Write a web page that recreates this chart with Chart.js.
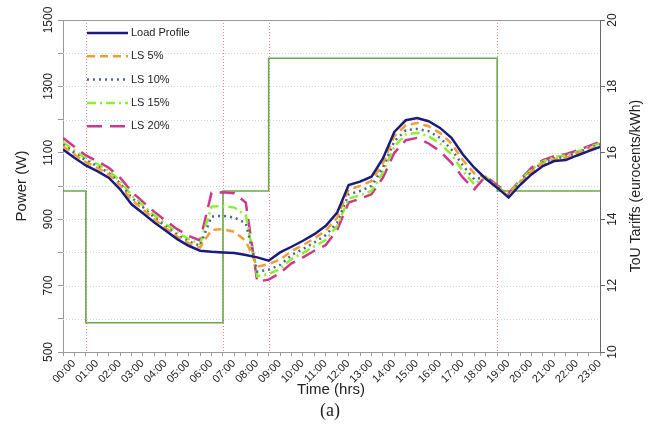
<!DOCTYPE html>
<html>
<head>
<meta charset="utf-8">
<script src="https://cdn.jsdelivr.net/npm/chart.js@4.4.1/dist/chart.umd.min.js"></script>
<style>
  html, body { margin: 0; padding: 0; background: #fff; }
  #wrap { position: relative; width: 659px; height: 429px; }
</style>
</head>
<body>
<div id="wrap"><canvas id="chart" width="659" height="429"></canvas></div>
<script>
/* Load profile vs load shifting scenarios, with ToU tariff steps */
var hours = [0, 0.5, 1, 1.5, 2, 2.5, 3, 3.5, 4, 4.5, 5, 5.5, 6, 6.5, 7, 7.5, 8, 8.5, 9, 9.5,
             10, 10.5, 11, 11.5, 12, 12.5, 13, 13.5, 14, 14.5, 15, 15.5, 16, 16.5, 17, 17.5,
             18, 18.5, 19, 19.5, 20, 20.5, 21, 21.5, 22, 22.5, 23, 23.5];
var hourLabels = ['00:00','01:00','02:00','03:00','04:00','05:00','06:00','07:00','08:00','09:00','10:00','11:00',
                  '12:00','13:00','14:00','15:00','16:00','17:00','18:00','19:00','20:00','21:00','22:00','23:00'];

var loadProfile = [1110, 1085, 1062, 1045, 1025, 990, 945, 918, 890, 865, 840, 820, 805, 802, 800, 798, 792, 785, 775, 800,
                   817, 835, 855, 880, 920, 1003, 1013, 1028, 1083, 1163, 1198, 1205, 1195, 1175, 1145, 1095,
                   1055, 1022, 995, 965, 1003, 1035, 1060, 1075, 1078, 1092, 1105, 1118];
var ls5  = [1120, 1095, 1072, 1055, 1035, 1002, 958, 930, 900, 873, 848, 828, 815, 868, 870, 862, 835, 757, 765, 778,
            804, 822, 842, 866, 905, 990, 1000, 1015, 1068, 1150, 1183, 1190, 1180, 1160, 1128, 1078,
            1038, 1025, 995, 970, 1010, 1043, 1068, 1080, 1085, 1098, 1110, 1122];
var ls10 = [1125, 1100, 1077, 1060, 1040, 1008, 965, 936, 905, 878, 853, 833, 820, 908, 910, 905, 888, 742, 748, 762,
            792, 810, 830, 852, 890, 975, 985, 1000, 1055, 1135, 1168, 1172, 1165, 1145, 1110, 1062,
            1020, 1027, 997, 972, 1012, 1046, 1071, 1083, 1088, 1100, 1113, 1125];
var ls15 = [1132, 1107, 1083, 1066, 1046, 1015, 972, 942, 912, 885, 860, 840, 826, 938, 940, 935, 912, 728, 735, 750,
            780, 798, 818, 838, 880, 962, 972, 985, 1040, 1120, 1155, 1160, 1150, 1128, 1095, 1045,
            1005, 1028, 998, 975, 1015, 1050, 1074, 1087, 1092, 1103, 1117, 1128];
var ls20 = [1145, 1118, 1092, 1075, 1055, 1025, 983, 952, 922, 895, 870, 850, 836, 980, 981, 978, 950, 712, 718, 738,
            767, 785, 805, 822, 868, 950, 962, 975, 1025, 1100, 1138, 1145, 1128, 1105, 1070, 1025,
            990, 1030, 1002, 978, 1018, 1055, 1078, 1090, 1096, 1107, 1120, 1133];

var tariffHours  = [0, 1, 7, 9, 19, 23.5];
var tariffValues = [14.85, 10.88, 14.85, 18.85, 14.85, 14.85];
var tariffChangeHours = [1, 7, 9, 19];

var powerTickLabels  = [500, 700, 900, 1100, 1300, 1500];
var tariffTickLabels = [10, 12, 14, 16, 18, 20];

function pts(xs, ys) { return xs.map(function(x, i) { return { x: x, y: ys[i] }; }); }

var FONT = '"Liberation Sans", Arial, sans-serif';

var decor = {
    id: 'decor',
    beforeDatasetsDraw: function(chart) {
        var ctx = chart.ctx, a = chart.chartArea, x = chart.scales.x, y = chart.scales.y;
        ctx.save();
        ctx.lineWidth = 1;
        ctx.strokeStyle = '#d4d4d4';
        ctx.setLineDash([1, 2]);
        y.ticks.forEach(function(t) {
            if (t.value <= y.min || t.value >= y.max) return;
            var py = Math.round(y.getPixelForValue(t.value)) + 0.5;
            ctx.beginPath(); ctx.moveTo(a.left, py); ctx.lineTo(a.right, py); ctx.stroke();
        });
        ctx.strokeStyle = '#ee8888';
        tariffChangeHours.forEach(function(h) {
            var px = Math.round(x.getPixelForValue(h)) + 0.5;
            ctx.beginPath(); ctx.moveTo(px, a.top); ctx.lineTo(px, a.bottom); ctx.stroke();
        });
        ctx.restore();
    },
    afterDraw: function(chart) {
        var ctx = chart.ctx, a = chart.chartArea, y = chart.scales.y, y2 = chart.scales.y2;
        ctx.save();
        // frame top
        ctx.strokeStyle = '#999'; ctx.lineWidth = 1;
        ctx.beginPath(); ctx.moveTo(a.left, a.top + 0.5); ctx.lineTo(a.right, a.top + 0.5); ctx.stroke();

        // rotated tick labels
        ctx.fillStyle = '#222';
        ctx.font = '12px ' + FONT;
        ctx.textAlign = 'center'; ctx.textBaseline = 'middle';
        powerTickLabels.forEach(function(v) {
            ctx.save(); ctx.translate(a.left - 14, y.getPixelForValue(v)); ctx.rotate(-Math.PI / 2);
            ctx.fillText(String(v), 0, 0); ctx.restore();
        });
        tariffTickLabels.forEach(function(v) {
            ctx.save(); ctx.translate(a.right + 13, y2.getPixelForValue(v)); ctx.rotate(-Math.PI / 2);
            ctx.fillText(String(v), 0, 0); ctx.restore();
        });

        // axis titles
        var midY = (a.top + a.bottom) / 2;
        ctx.font = '15px ' + FONT;
        ctx.save(); ctx.translate(22, midY); ctx.rotate(-Math.PI / 2); ctx.fillText('Power (W)', 0, 0); ctx.restore();
        ctx.font = '14px ' + FONT;
        ctx.save(); ctx.translate(636, midY); ctx.rotate(-Math.PI / 2); ctx.fillText('ToU Tariffs (eurocents/kWh)', 0, 0); ctx.restore();
        ctx.font = '15px ' + FONT;
        ctx.fillText('Time (hrs)', 331, 390);
        ctx.font = '18px "Liberation Serif", "Times New Roman", serif';
        ctx.fillText('(a)', 330, 411);

        // legend inside plot
        ctx.font = '11px ' + FONT;
        ctx.textAlign = 'left';
        chart.data.datasets.forEach(function(ds, i) {
            if (!ds.showInLegend) return;
            var ly = a.top + 13 + i * 23.3;
            ctx.save();
            ctx.strokeStyle = ds.borderColor; ctx.lineWidth = ds.borderWidth;
            ctx.setLineDash(ds.borderDash || []);
            ctx.beginPath(); ctx.moveTo(a.left + 24, ly); ctx.lineTo(a.left + 65, ly); ctx.stroke();
            ctx.restore();
            ctx.fillStyle = '#222';
            ctx.fillText(ds.label, a.left + 68, ly);
        });
        ctx.restore();
    }
};

function loadSet(label, values, color, dash) {
    return { label: label, data: pts(hours, values), borderColor: color, borderWidth: 2.5,
             borderDash: dash, pointRadius: 0, tension: 0, yAxisID: 'y', showInLegend: true };
}

new Chart(document.getElementById('chart').getContext('2d'), {
    type: 'line',
    data: {
        datasets: [
            loadSet('Load Profile', loadProfile, '#1b1b7e', []),
            loadSet('LS 5%', ls5, '#f0a032', [8, 5]),
            loadSet('LS 10%', ls10, '#4e6788', [2, 4]),
            loadSet('LS 15%', ls15, '#8cf032', [9, 4, 2, 4]),
            loadSet('LS 20%', ls20, '#d0368c', [15, 8]),
            {
                label: 'ToU Tariff', data: pts(tariffHours, tariffValues), stepped: 'before',
                borderColor: '#6aa84f', borderWidth: 1.6, pointRadius: 0, yAxisID: 'y2', order: 10
            }
        ]
    },
    options: {
        responsive: false,
        animation: false,
        layout: { padding: { top: 20, left: 0, right: 0, bottom: 0 } },
        plugins: { legend: { display: false }, tooltip: { enabled: false } },
        scales: {
            x: {
                type: 'linear', min: 0, max: 23.5,
                afterFit: function(s) { s.height = 77; },
                afterBuildTicks: function(s) { s.ticks = hours.map(function(h) { return { value: h }; }); },
                ticks: {
                    autoSkip: false, minRotation: 45, maxRotation: 45, labelOffset: 11, padding: 1,
                    color: '#222', font: { family: FONT, size: 11 },
                    callback: function(v) { return Number.isInteger(v) ? hourLabels[v] : ''; }
                },
                grid: { drawOnChartArea: false, tickLength: 4, color: '#999' },
                border: { color: '#999' }
            },
            y: {
                position: 'left', min: 500, max: 1500,
                afterFit: function(s) { s.width = 63; },
                ticks: { stepSize: 100, display: false },
                grid: { drawOnChartArea: false, tickLength: 5, color: '#999' },
                border: { color: '#999' }
            },
            y2: {
                position: 'right', min: 10, max: 20,
                afterFit: function(s) { s.width = 59; },
                ticks: { stepSize: 2, display: false },
                grid: { drawOnChartArea: false, tickLength: 5, color: '#666' },
                border: { color: '#666' }
            }
        }
    },
    plugins: [decor]
});
</script>
</body>
</html>
